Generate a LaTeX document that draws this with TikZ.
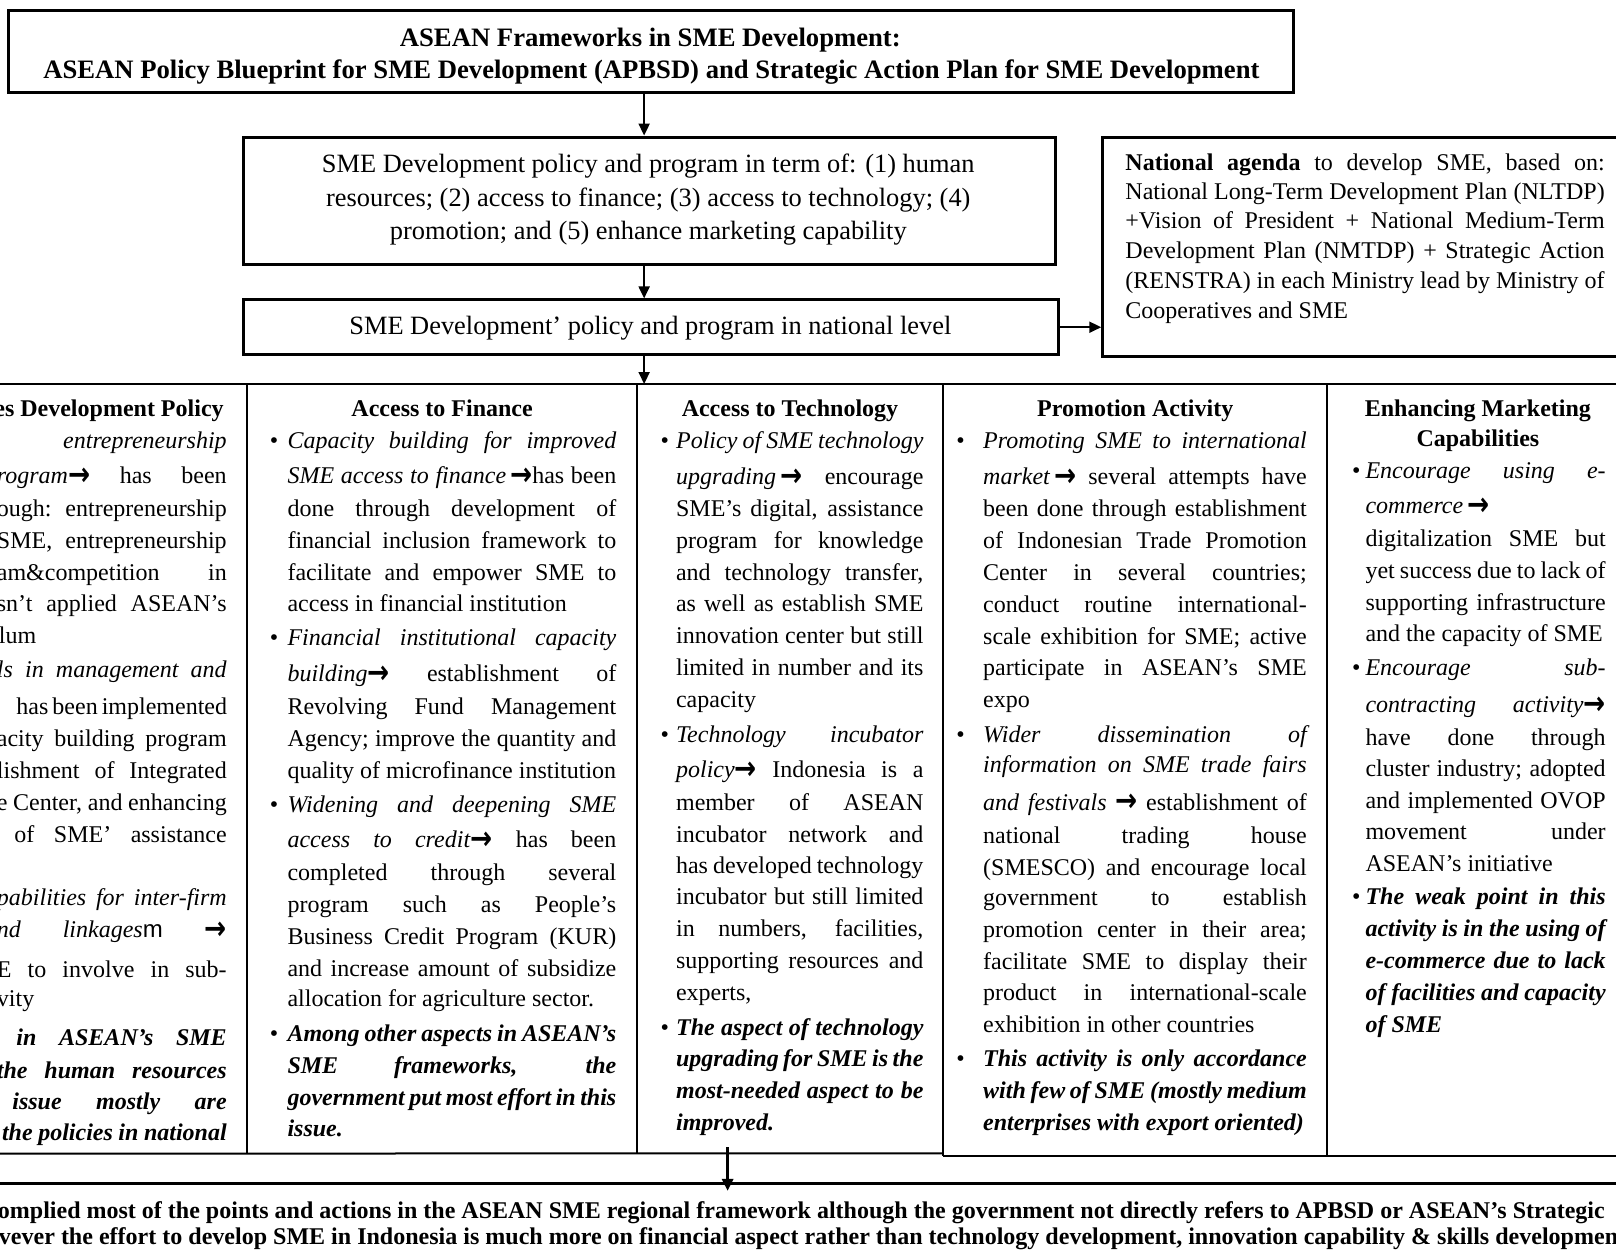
\documentclass[tikz,border=0pt]{standalone}
\usepackage{fontspec}
\setmainfont{Liberation Serif}
\newfontfamily\arrowfont{DejaVu Sans}
\newfontfamily\lsans{Liberation Sans}
\usepackage{graphicx}
\usetikzlibrary{arrows.meta,fit,calc}
\newlength\pxu \setlength\pxu{0.51531pt}
\newcounter{tl}
\newcommand\rarr{{\arrowfont\bfseries\upshape\raisebox{-0.08em}{\scalebox{1.1}[1.35]{→}}}}
\newcommand\TJ[4]{\stepcounter{tl}\node[txt,anchor=base west] (t\arabic{tl}) at (#1,#2+7) {\makebox[#3\pxu][s]{#4}};}
\newcommand\TL[3]{\stepcounter{tl}\node[txt,anchor=base west] (t\arabic{tl}) at (#1,#2+7) {#3};}
\newcommand\TR[3]{\stepcounter{tl}\node[txt,anchor=base east] (t\arabic{tl}) at (#1,#2+7) {#3};}
\newcommand\TC[3]{\stepcounter{tl}\node[txt,anchor=base] (t\arabic{tl}) at (#1,#2+7) {#3};}
\newcommand\TB[2]{\stepcounter{tl}\node[txt,anchor=base] (t\arabic{tl}) at (#1,#2+7) {•};}
\newcommand\TF[4]{\stepcounter{tl}\node[txt,anchor=base west] (t\arabic{tl}) at (#1,#2+7) {\resizebox{#3\pxu}{\height}{#4}};}
\tikzset{
  txt/.style={inner sep=0pt, outer sep=0pt, font=\fontsize{12}{14}\selectfont},
  frame/.style={draw, line width=1.5pt, inner sep=0pt},
  tbl/.style={line width=1pt},
  conn/.style={line width=1pt, -{Triangle[length=6pt,width=5.5pt]}},
}
\begin{document}
\begin{tikzpicture}[x=0.51531pt,y=-0.51531pt]
\useasboundingbox (0,0) rectangle (1568,1219);
\fill[white] (0,0) rectangle (1568,1219);
\clip (0,0) rectangle (1568,1219);

% boxes
\node[frame, fit={(8,10) (1255,90)}] (b1) {};
\node[frame, fit={(236,133) (1024,257)}] (b2) {};
\node[frame, fit={(236,291) (1027,344)}] (b3) {};
\node[frame, fit={(1070,133) (1585,346)}] (b4) {};
\node[inner sep=0pt, fit={(-10,373) (1585,1119)}] (tab) {};
\node[frame, fit={(-10,1148) (1585,1265)}] (bot) {};

% table lines
\draw[tbl] (tab.north west) -- (tab.north east);
\draw[tbl] (tab.south west) -- (915,1119);
\draw[tbl] (915,1122) -- (1585,1122);
\draw[tbl] (240,373) -- (240,1119);
\draw[tbl] (618,373) -- (618,1119);
\draw[tbl] (915,373) -- (915,1122);
\draw[tbl] (1288,373) -- (1288,1122);

% connectors
\coordinate (ax) at (625,0);
\coordinate (ax5) at (706,0);
\draw[conn] (b1.south -| ax) -- (b2.north -| ax);
\draw[conn] (b2.south -| ax) -- (b3.north -| ax);
\draw[conn] (b3.east) -- (b4.west |- b3.east);
\draw[conn] (b3.south -| ax) -- (tab.north -| ax);
\draw[conn, line width=1.6pt] ($(tab.south -| ax5)+(0,-6)$) -- ($(bot.north -| ax5)+(0,9)$);

% title
\TF{388}{38}{486}{\fontsize{13.3}{16}\selectfont\bfseries ASEAN Frameworks in SME Development:}
\TF{42}{69}{1180}{\fontsize{13.3}{16}\selectfont\bfseries ASEAN Policy Blueprint for SME Development (APBSD) and Strategic Action Plan for SME Development}

% box 2
\TC{629}{160}{\fontsize{13.2}{16}\selectfont SME Development policy and program in term of: (1) human}
\TC{629}{193}{\fontsize{13.2}{16}\selectfont resources; (2) access to finance; (3) access to technology; (4)}
\TC{629}{225}{\fontsize{13.2}{16}\selectfont promotion; and (5) enhance marketing capability}
% box 3
\TC{631}{318}{\fontsize{13.2}{16}\selectfont SME Development’ policy and program in national level}

% box 4
\TJ{1092}{158}{465}{\textbf{National agenda} to develop SME, based on:}
\TJ{1092}{187}{465}{National Long-Term Development Plan (NLTDP)}
\TJ{1092}{215}{465}{+Vision of President + National Medium-Term}
\TJ{1092}{244}{465}{Development Plan (NMTDP) + Strategic Action}
\TJ{1092}{273}{465}{(RENSTRA) in each Ministry lead by Ministry of}
\TL{1092}{302}{Cooperatives and SME}

% column 1
\TR{217}{397}{\bfseries es Development Policy}
\TR{220}{428}{\itshape entrepreneurship}
\TJ{-3}{462}{223}{\textit{rogram}\rarr\ has been}
\TJ{-3}{494}{223}{ough: entrepreneurship}
\TJ{-3}{525}{223}{SME, entrepreneurship}
\TJ{-3}{556}{223}{am\&competition in}
\TJ{-3}{586}{223}{sn’t applied ASEAN’s}
\TL{-1}{617}{lum}
\TJ{-3}{650}{223}{\itshape ls in management and}
\TJ{16}{686}{204}{has been implemented}
\TJ{-3}{717}{223}{acity building program}
\TJ{-3}{748}{223}{lishment of Integrated}
\TJ{-3}{779}{223}{e Center, and enhancing}
\TJ{14}{810}{206}{of SME’ assistance}
\TJ{-3}{872}{223}{\itshape pabilities for inter-firm}
\TJ{-3}{903}{223}{\textit{nd} \textit{linkages}{\lsans m} \rarr}
\TJ{-3}{941}{223}{E to involve in sub-}
\TL{-3}{970}{vity}
\TJ{16}{1007}{204}{\bfseries\itshape in ASEAN’s SME}
\TJ{-3}{1039}{223}{\bfseries\itshape the human resources}
\TJ{12}{1070}{208}{\bfseries\itshape issue mostly are}
\TJ{2}{1100}{218}{\bfseries\itshape the policies in national}

% column 2
\TC{429}{397}{\bfseries Access to Finance}
\TB{266}{428}
\TJ{279}{428}{319}{\itshape Capacity building for improved}
\TJ{279}{462}{319}{\textit{SME access to finance}\,\rarr has been}
\TJ{279}{494}{319}{done through development of}
\TJ{279}{525}{319}{financial inclusion framework to}
\TJ{279}{556}{319}{facilitate and empower SME to}
\TL{279}{586}{access in financial institution}
\TB{266}{619}
\TJ{279}{619}{319}{\itshape Financial institutional capacity}
\TJ{279}{654}{319}{\textit{building}\rarr\ establishment of}
\TJ{279}{686}{319}{Revolving Fund Management}
\TJ{279}{717}{319}{Agency; improve the quantity and}
\TL{279}{748}{quality of microfinance institution}
\TB{266}{781}
\TJ{279}{781}{319}{\itshape Widening and deepening SME}
\TJ{279}{815}{319}{\textit{access to credit}\rarr\ has been}
\TJ{279}{847}{319}{completed through several}
\TJ{279}{878}{319}{program such as People’s}
\TJ{279}{909}{319}{Business Credit Program (KUR)}
\TJ{279}{940}{319}{and increase amount of subsidize}
\TL{279}{970}{allocation for agriculture sector.}
\TB{266}{1004}
\TJ{279}{1004}{319}{\bfseries\itshape Among other aspects in ASEAN’s}
\TJ{279}{1035}{319}{\bfseries\itshape SME frameworks, the}
\TJ{279}{1066}{319}{\bfseries\itshape government put most effort in this}
\TL{279}{1096}{\bfseries\itshape issue.}

% column 3
\TC{766.5}{397}{\bfseries Access to Technology}
\TB{645}{428}
\TJ{656}{428}{240}{\itshape Policy of SME technology}
\TJ{656}{463}{240}{\textit{upgrading}\,\rarr\ encourage}
\TJ{656}{494}{240}{SME’s digital, assistance}
\TJ{656}{525}{240}{program for knowledge}
\TJ{656}{556}{240}{and technology transfer,}
\TJ{656}{586}{240}{as well as establish SME}
\TJ{656}{617}{240}{innovation center but still}
\TJ{656}{648}{240}{limited in number and its}
\TL{656}{679}{capacity}
\TB{645}{713}
\TJ{656}{713}{240}{\itshape Technology incubator}
\TJ{656}{747}{240}{\textit{policy}\rarr\ Indonesia is a}
\TJ{656}{779}{240}{member of ASEAN}
\TJ{656}{810}{240}{incubator network and}
\TJ{656}{841}{240}{has developed technology}
\TJ{656}{871}{240}{incubator but still limited}
\TJ{656}{902}{240}{in numbers, facilities,}
\TJ{656}{933}{240}{supporting resources and}
\TL{656}{964}{experts,}
\TB{645}{998}
\TJ{656}{998}{240}{\bfseries\itshape The aspect of technology}
\TJ{656}{1028}{240}{\bfseries\itshape upgrading for SME is the}
\TJ{656}{1059}{240}{\bfseries\itshape most-needed aspect to be}
\TL{656}{1090}{\bfseries\itshape improved.}

% column 4
\TC{1101.5}{397}{\bfseries Promotion Activity}
\TB{932}{428}
\TJ{954}{428}{314}{\itshape Promoting SME to international}
\TJ{954}{463}{314}{\textit{market}\,\rarr\ several attempts have}
\TJ{954}{494}{314}{been done through establishment}
\TJ{954}{525}{314}{of Indonesian Trade Promotion}
\TJ{954}{556}{314}{Center in several countries;}
\TJ{954}{587}{314}{conduct routine international-}
\TJ{954}{618}{314}{scale exhibition for SME; active}
\TJ{954}{648}{314}{participate in ASEAN’s SME}
\TL{954}{679}{expo}
\TB{932}{713}
\TJ{954}{713}{314}{\itshape Wider dissemination of}
\TJ{954}{743}{314}{\itshape information on SME trade fairs}
\TJ{954}{779}{314}{\textit{and festivals} \rarr\ establishment of}
\TJ{954}{811}{314}{national trading house}
\TJ{954}{842}{314}{(SMESCO) and encourage local}
\TJ{954}{872}{314}{government to establish}
\TJ{954}{903}{314}{promotion center in their area;}
\TJ{954}{934}{314}{facilitate SME to display their}
\TJ{954}{964}{314}{product in international-scale}
\TL{954}{995}{exhibition in other countries}
\TB{932}{1028}
\TJ{954}{1028}{314}{\bfseries\itshape This activity is only accordance}
\TJ{954}{1059}{314}{\bfseries\itshape with few of SME (mostly medium}
\TL{954}{1090}{\bfseries\itshape enterprises with export oriented)}

% column 5
\TC{1434}{397}{\bfseries Enhancing Marketing}
\TC{1434}{426}{\bfseries Capabilities}
\TB{1316}{457}
\TJ{1325}{457}{233}{\itshape Encourage using e-}
\TL{1325}{491}{\textit{commerce}\,\rarr}
\TJ{1325}{523}{233}{digitalization SME but}
\TJ{1325}{554}{233}{yet success due to lack of}
\TJ{1325}{585}{233}{supporting infrastructure}
\TL{1325}{615}{and the capacity of SME}
\TB{1316}{648}
\TJ{1325}{648}{233}{\itshape Encourage sub-}
\TJ{1325}{684}{233}{\textit{contracting activity}\rarr}
\TJ{1325}{716}{233}{have done through}
\TJ{1325}{746}{233}{cluster industry; adopted}
\TJ{1325}{777}{233}{and implemented OVOP}
\TJ{1325}{808}{233}{movement under}
\TL{1325}{839}{ASEAN’s initiative}
\TB{1316}{871}
\TJ{1325}{871}{233}{\bfseries\itshape The weak point in this}
\TJ{1325}{902}{233}{\bfseries\itshape activity is in the using of}
\TJ{1325}{933}{233}{\bfseries\itshape e-commerce due to lack}
\TJ{1325}{964}{233}{\bfseries\itshape of facilities and capacity}
\TL{1325}{995}{\bfseries\itshape of SME}

% bottom text
\TF{-2}{1175}{1559}{\bfseries omplied most of the points and actions in the ASEAN SME regional framework although the government not directly refers to APBSD or ASEAN’s Strategic}
\TF{-1}{1201}{1571}{\bfseries vever the effort to develop SME in Indonesia is much more on financial aspect rather than technology development, innovation capability \& skills developmen}
\end{tikzpicture}
\end{document}
